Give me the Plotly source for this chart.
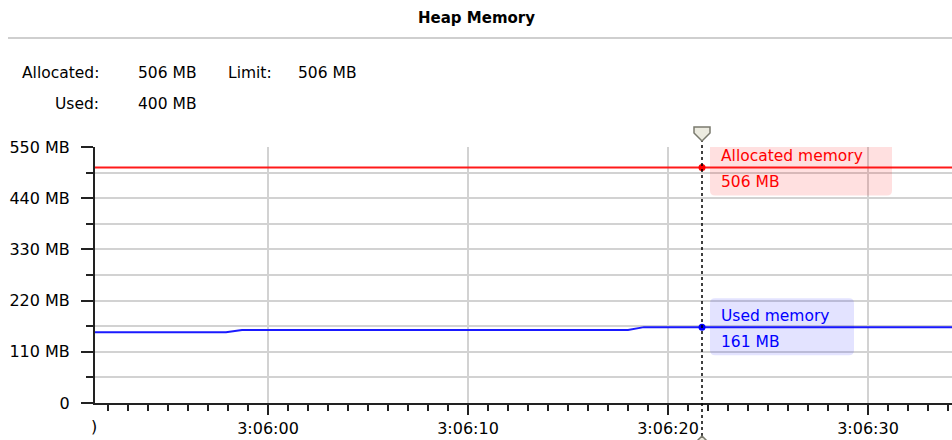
import plotly.graph_objects as go

# ---------------- data ----------------
day = "2000-01-01 "
alloc_times = ["03:05:50", "03:06:36"]
alloc_values = [506, 506]

used_times = ["03:05:50", "03:05:57.9", "03:05:58.7", "03:06:18.0", "03:06:18.8", "03:06:36"]
used_values = [152, 152, 157, 157, 163, 163]

cursor_time = "03:06:21.7"
cursor_alloc = 506
cursor_used = 161

header_alloc = "506 MB"
header_limit = "506 MB"
header_used = "400 MB"

y_tickvals = [0, 110, 220, 330, 440, 550]
y_ticktext = ["0", "110 MB", "220 MB", "330 MB", "440 MB", "550 MB"]
y_minor_vals = [55, 165, 275, 385, 495]

x_range = ["03:05:51.35", "03:06:34.2"]

# ---------------- layout helpers ----------------
W, H = 952, 440
L, R, T, B = 95, 0, 147, 37
FONT = "DejaVu Sans"
FS = 15.5
TFS = 16

def px_x(px):
    return (px - L) / (W - L - R)

def px_y(py):
    return (H - B - py) / (H - T - B)

def ts(t):
    return day + t

def rounded_rect(x0, y0, x1, y1, r):
    # pixel offsets, y upward
    return (f"M {x0 + r},{y0} L {x1 - r},{y0} Q {x1},{y0} {x1},{y0 - r} "
            f"L {x1},{y1 + r} Q {x1},{y1} {x1 - r},{y1} "
            f"L {x0 + r},{y1} Q {x0},{y1} {x0},{y1 + r} "
            f"L {x0},{y0 - r} Q {x0},{y0} {x0 + r},{y0} Z")

# value of the used-memory line at the cursor (last segment)
used_at_cursor = used_values[-1]
alloc_at_cursor = alloc_values[-1]

fig = go.Figure()

fig.add_trace(go.Scatter(
    x=[ts(t) for t in alloc_times], y=alloc_values, mode="lines",
    line=dict(color="#ff1a1a", width=2), name="Allocated memory", hoverinfo="skip"))
fig.add_trace(go.Scatter(
    x=[ts(t) for t in used_times], y=used_values, mode="lines",
    line=dict(color="#1a1aff", width=2), name="Used memory", hoverinfo="skip"))

# cursor dots
fig.add_trace(go.Scatter(
    x=[ts(cursor_time), ts(cursor_time)], y=[alloc_at_cursor, used_at_cursor], mode="markers",
    marker=dict(color=["#ff0000", "#0000ff"], size=7), hoverinfo="skip", cliponaxis=False))

handle_style = dict(fillcolor="#ecebe0", line=dict(color="#7a7a6e", width=1.5))

shapes = [
    # header separator
    dict(type="line", xref="paper", yref="paper", x0=px_x(8), x1=px_x(952),
         y0=px_y(38), y1=px_y(38), line=dict(color="#cfcfcf", width=2)),
    # value boxes
    dict(type="path", xref="x", yref="y", xsizemode="pixel", ysizemode="pixel",
         xanchor=ts(cursor_time), yanchor=alloc_at_cursor,
         path=rounded_rect(8, 29, 190, -28, 5),
         fillcolor="rgba(255,0,0,0.12)", line=dict(width=0), layer="above"),
    dict(type="path", xref="x", yref="y", xsizemode="pixel", ysizemode="pixel",
         xanchor=ts(cursor_time), yanchor=used_at_cursor,
         path=rounded_rect(8, 29, 152, -28, 5),
         fillcolor="rgba(0,0,255,0.11)", line=dict(width=0), layer="above"),
    # cursor dotted line
    dict(type="line", xref="x", yref="paper", x0=ts(cursor_time), x1=ts(cursor_time),
         y0=px_y(442), y1=px_y(141), line=dict(color="#000000", width=1.5, dash="dot"),
         layer="above"),
    # cursor handles
    dict(type="path", xref="x", yref="paper", xsizemode="pixel", ysizemode="pixel",
         xanchor=ts(cursor_time), yanchor=1,
         path="M -8,20 L 8,20 L 8,14 L 0,6 L -8,14 Z", layer="above", **handle_style),
    dict(type="path", xref="x", yref="paper", xsizemode="pixel", ysizemode="pixel",
         xanchor=ts(cursor_time), yanchor=0,
         path="M 0,-33 L 8,-41 L 8,-47 L -8,-47 L -8,-41 Z", layer="above", **handle_style),
]

def label(text, px, py, anchor, size=FS, bold=False):
    return dict(text=f"<b>{text}</b>" if bold else text, x=px_x(px), y=px_y(py),
                xref="paper", yref="paper", showarrow=False, xanchor=anchor,
                yanchor="middle", font=dict(family=FONT, size=size, color="#000000"))

annotations = [
    label("Heap Memory", 476, 18, "center", size=15, bold=True),
    label("Allocated:", 101, 73, "right"),
    label(header_alloc, 136, 73, "left"),
    label("Limit:", 226, 73, "left"),
    label(header_limit, 296, 73, "left"),
    label("Used:", 101, 104, "right"),
    label(header_used, 136, 104, "left"),
    # clipped remnant of the previous tick label at the left edge
    label(")", 94, 426, "center", size=TFS),
]

for text, yv, col in [
    ("Allocated memory", alloc_at_cursor, "#ff0000"),
    ("%d MB" % cursor_alloc, alloc_at_cursor, "#ff0000"),
    ("Used memory", used_at_cursor, "#0000ff"),
    ("%d MB" % cursor_used, used_at_cursor, "#0000ff"),
]:
    first = not text.endswith("MB")
    annotations.append(dict(
        text=text, x=ts(cursor_time), y=yv, xref="x", yref="y", showarrow=False,
        xanchor="left", yanchor="middle", xshift=17, yshift=11 if first else -15,
        font=dict(family=FONT, size=FS, color=col)))

fig.update_layout(
    width=W, height=H, margin=dict(l=L, r=R, t=T, b=B, autoexpand=False),
    paper_bgcolor="white", plot_bgcolor="white", showlegend=False,
    font=dict(family=FONT, size=FS, color="#000000"),
    shapes=shapes, annotations=annotations,
    xaxis=dict(
        type="date", range=[ts(x_range[0]), ts(x_range[1])],
        tick0=ts("03:06:00"), dtick=10000, tickformat="%-H:%M:%S",
        ticks="outside", ticklen=10, tickwidth=2, tickcolor="#222222",
        showline=True, linecolor="#222222", linewidth=2,
        showgrid=True, gridcolor="#d2d2d2", gridwidth=2,
        zeroline=False,
        minor=dict(dtick=1000, ticks="outside", ticklen=6, tickwidth=1.5,
                   tickcolor="#222222", showgrid=False),
        tickfont=dict(family=FONT, size=TFS, color="#000000"),
    ),
    yaxis=dict(
        range=[0, 550], tickvals=y_tickvals, ticktext=y_ticktext,
        ticks="outside", ticklen=12, tickwidth=2, tickcolor="#222222",
        showline=True, linecolor="#222222", linewidth=2,
        showgrid=True, gridcolor="#d2d2d2", gridwidth=2,
        zeroline=False, ticklabelstandoff=8,
        minor=dict(tickvals=y_minor_vals, ticks="outside", ticklen=7,
                   tickwidth=1.5, tickcolor="#222222", showgrid=True,
                   gridcolor="#d2d2d2", gridwidth=2),
        tickfont=dict(family=FONT, size=TFS, color="#000000"),
    ),
)

fig.write_html("out.html", config={"displayModeBar": False},
               post_script="document.body.style.margin='0';document.body.style.overflow='hidden';")
